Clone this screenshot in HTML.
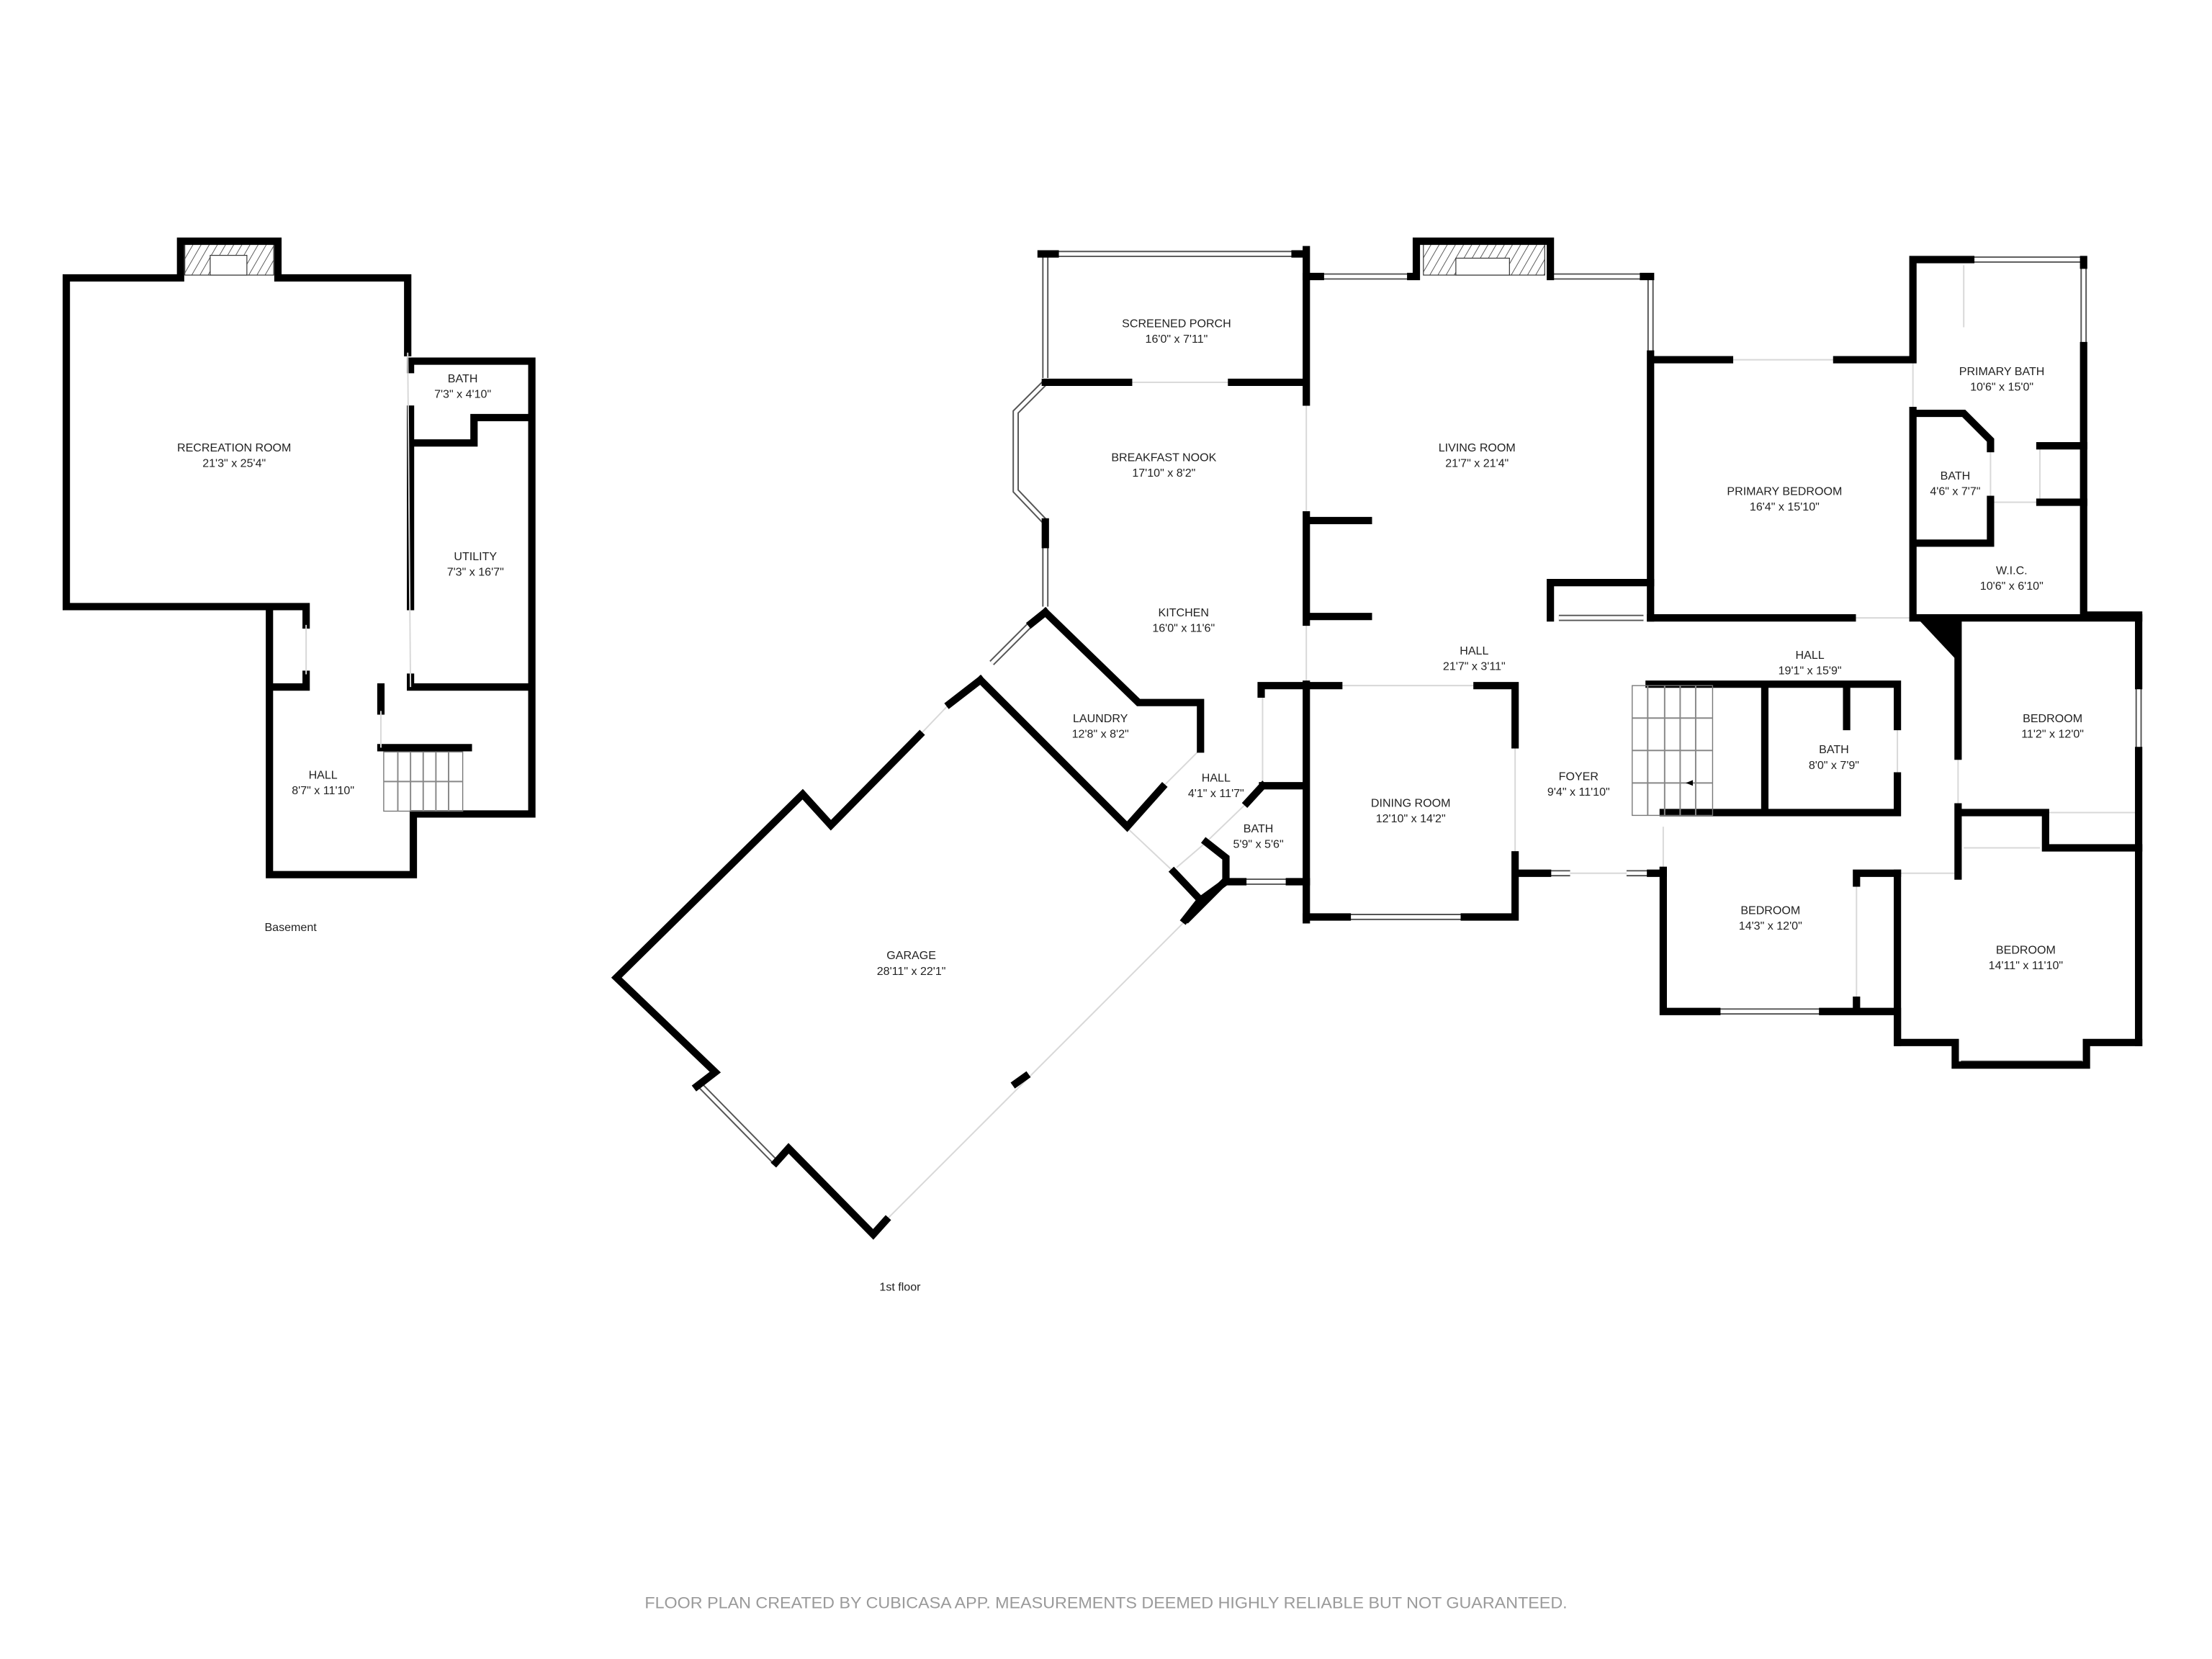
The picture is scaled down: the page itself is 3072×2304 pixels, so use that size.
<!DOCTYPE html>
<html><head><meta charset="utf-8"><style>
html,body{margin:0;padding:0;background:#fff}
svg{display:block}
.w{fill:none;stroke:#000;stroke-width:5.2;stroke-linecap:square;stroke-linejoin:miter}
.wi{fill:none;stroke:#555;stroke-width:4.5}
.wo{fill:none;stroke:#fff;stroke-width:2.5}
.t{fill:none;stroke:#d8d8d8;stroke-width:1}
text{font-family:"Liberation Sans",sans-serif;font-size:8.2px;fill:#222;text-anchor:middle}
</style></head><body>
<svg width="3072" height="2304" viewBox="0 0 1568 1176" xmlns="http://www.w3.org/2000/svg">
<defs><pattern id="h" width="5" height="5" patternUnits="userSpaceOnUse" patternTransform="rotate(30)"><line x1="0" y1="0" x2="0" y2="5" stroke="#333" stroke-width="0.8"/></pattern></defs>
<rect width="1568" height="1176" fill="#fff"/>

<!-- BASEMENT -->
<rect x="131" y="173" width="63" height="22" fill="url(#h)" stroke="#333" stroke-width="0.6"/>
<rect x="149" y="181" width="26" height="14" fill="#fff" stroke="#333" stroke-width="0.6"/>
<path class="w" d="M289,250 L289,197 L197,197 L197,171 L128,171 L128,197 L47,197 L47,430 L217,430 L217,443 M217,478 L217,487 L191,487 M191,430 L191,620 L293,620 L293,577 L377,577 L377,256 L291,256 L291,262 M291,290 L291,430 M291,480 L291,487 L377,487 M291,314 L336,314 L336,296 L377,296 M270,487 L270,504 M270,530 L332,530"/>
<path class="t" d="M289,250 L291,487 M217,443 L217,478 M270,504 L270,530"/>
<rect x="272" y="533" width="56" height="42" fill="none" stroke="#777" stroke-width="0.7"/>
<path class="t" style="stroke:#888" d="M282,533V575M291,533V575M300,533V575M309,533V575M318,533V575M272,554H328"/>
<text x="328" y="271">BATH</text><text x="328" y="282">7'3" x 4'10"</text>
<text x="166" y="320">RECREATION ROOM</text><text x="166" y="331">21'3" x 25'4"</text>
<text x="337" y="397">UTILITY</text><text x="337" y="408">7'3" x 16'7"</text>
<text x="229" y="552">HALL</text><text x="229" y="563">8'7" x 11'10"</text>
<text x="206" y="660">Basement</text>

<!-- FIRST FLOOR -->
<path class="wi" d="M748,180H920M741,182V268M741,271L720,292V348L741,370M741,386V430M703,470L731,442M936,196H1000M1099,196H1165M1170,198V250M1397,184H1477M1477,190V245M1516,486V532M1390,754H1476M1217,717H1292M955,650H1038M1097,619H1113M1153,619H1170M881,625H914M1105,438H1165M497,770L550,824"/>
<path class="wo" d="M748,180H920M741,182V268M741,271L720,292V348L741,370M741,386V430M703,470L731,442M936,196H1000M1099,196H1165M1170,198V250M1397,184H1477M1477,190V245M1516,486V532M1390,754H1476M1217,717H1292M955,650H1038M1097,619H1113M1153,619H1170M881,625H914M1105,438H1165M497,770L550,824"/>
<rect x="1009" y="173" width="86" height="22" fill="url(#h)" stroke="#333" stroke-width="0.6"/>
<rect x="1032" y="183" width="38" height="12" fill="#fff" stroke="#333" stroke-width="0.6"/>
<path class="t" d="M800,271H873M926,285V365M926,441V485M1226,255H1302M1356,255V291M1392,188V232M1411,318V354M1411,356H1446M1446,318V356M1313,438H1356M1388,536V572M1450,576H1516M1392,601H1446M1345,515V550M1179,586V617M1316,626V709M1113,619H1153M949,486H1047M1074,528V606M1345,619H1386M895,490V557M884,569L857,595M851,531L824,558M798,586L832,618M834,615L855,597M673,499L652,521M628,865L842,651"/>
<path class="w" d="M738,180H748M918,180H926M926,177V285M741,271H800M873,271H926M741,370V386M741,434L807,498H851V531M731,442L741,434"/>
<path class="w" d="M926,365V441M926,369H970M926,437H970M926,485V652M926,196H936M1000,196H1004V171H1099V196M1165,196H1170M1170,251V438M1170,255H1226M1302,255H1356V184H1397M1477,184V188M1477,245V436H1516V486M1516,532V739"/>
<path class="w" d="M1356,291V438M1356,293H1392L1411,312V318M1411,354V385H1356M1446,316H1477M1446,356H1477M1099,438V413H1170M1170,438H1313M1356,438H1516"/>
<polygon points="1357,436 1389,436 1387,468" fill="#000"/>
<path class="w" d="M1388,438V536M1388,572V621M1388,576H1450V601H1516M1345,619V739H1386V755H1479V739H1516"/>
<path class="w" d="M1169,485H1345M1251,485V576M1345,485V515M1345,550V576M1309,485V515M1179,576H1345M1179,617V717H1217M1292,717H1345V739M1316,619H1345M1316,619V626M1316,709V717"/>
<path class="w" d="M1074,619H1097M1170,619H1179V617M926,486H949M1047,486H1074V528M1074,606V650H1038M955,650H926"/>
<path class="w" d="M894,486H926M894,486V492M895,557H924M895,557L884,569M855,597L869,608V625H881M914,625H926M869,625L851,638L832,618M851,638L840,652"/>
<path class="w" d="M731,442L741,434M695,482L673,499M652,521L589,585L569,563L437,693L507,760L494,770M550,824L559,814L619,875L628,865M842,651L867,626M695,482L799,586L824,558M720,768L727,763"/>
<rect x="1157" y="486" width="57" height="92" fill="none" stroke="#777" stroke-width="0.7"/>
<path class="t" style="stroke:#888" d="M1157,532H1214M1157,509H1214M1157,555H1214M1168,486V578M1180,486V578M1191,486V578M1202,486V578"/>
<path d="M1195,555l5,-2v4z" fill="#000"/>
<text x="834" y="232">SCREENED PORCH</text><text x="834" y="243">16'0" x 7'11"</text>
<text x="825" y="327">BREAKFAST NOOK</text><text x="825" y="338">17'10" x 8'2"</text>
<text x="839" y="437">KITCHEN</text><text x="839" y="448">16'0" x 11'6"</text>
<text x="780" y="512">LAUNDRY</text><text x="780" y="523">12'8" x 8'2"</text>
<text x="862" y="554">HALL</text><text x="862" y="565">4'1" x 11'7"</text>
<text x="892" y="590">BATH</text><text x="892" y="601">5'9" x 5'6"</text>
<text x="646" y="680">GARAGE</text><text x="646" y="691">28'11" x 22'1"</text>
<text x="1047" y="320">LIVING ROOM</text><text x="1047" y="331">21'7" x 21'4"</text>
<text x="1045" y="464">HALL</text><text x="1045" y="475">21'7" x 3'11"</text>
<text x="1000" y="572">DINING ROOM</text><text x="1000" y="583">12'10" x 14'2"</text>
<text x="1119" y="553">FOYER</text><text x="1119" y="564">9'4" x 11'10"</text>
<text x="1265" y="351">PRIMARY BEDROOM</text><text x="1265" y="362">16'4" x 15'10"</text>
<text x="1419" y="266">PRIMARY BATH</text><text x="1419" y="277">10'6" x 15'0"</text>
<text x="1386" y="340">BATH</text><text x="1386" y="351">4'6" x 7'7"</text>
<text x="1426" y="407">W.I.C.</text><text x="1426" y="418">10'6" x 6'10"</text>
<text x="1283" y="467">HALL</text><text x="1283" y="478">19'1" x 15'9"</text>
<text x="1300" y="534">BATH</text><text x="1300" y="545">8'0" x 7'9"</text>
<text x="1455" y="512">BEDROOM</text><text x="1455" y="523">11'2" x 12'0"</text>
<text x="1255" y="648">BEDROOM</text><text x="1255" y="659">14'3" x 12'0"</text>
<text x="1436" y="676">BEDROOM</text><text x="1436" y="687">14'11" x 11'10"</text>
<text x="638" y="915">1st floor</text>
<text x="784" y="1140" textLength="654" lengthAdjust="spacingAndGlyphs" style="font-size:11.5px;fill:#9a9a9a">FLOOR PLAN CREATED BY CUBICASA APP. MEASUREMENTS DEEMED HIGHLY RELIABLE BUT NOT GUARANTEED.</text>
</svg>
</body></html>
